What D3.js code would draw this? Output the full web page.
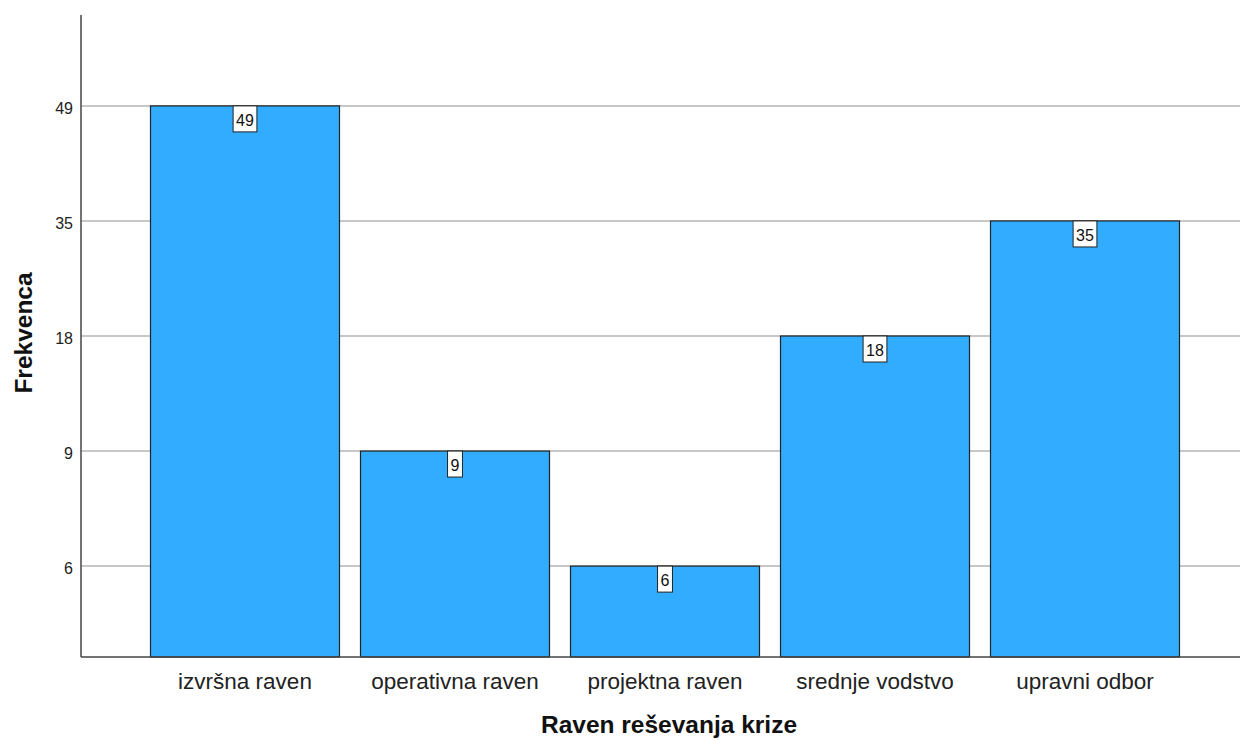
<!DOCTYPE html>
<html><head><meta charset="utf-8">
<script src="https://cdn.jsdelivr.net/npm/d3@7"></script>
<style>body{margin:0;background:#fff}svg{display:block;font-family:"Liberation Sans",Arial,sans-serif}</style>
</head><body><svg id="c" width="1240" height="740"></svg>
<script>
const categories = ["izvršna raven","operativna raven","projektna raven","srednje vodstvo","upravni odbor"];
const values = [49, 9, 6, 18, 35];
const yTicks = ["6","9","18","35","49"];
const xTitle = "Raven reševanja krize";
const yTitle = "Frekvenca";

(function(){
const svg = d3.select("#c");
const mLeft = 81, mBottom = 657, mTop = 15, mRight = 1240;

const x = d3.scaleBand().domain(categories).range([140, 1190]).paddingInner(0.1).paddingOuter(0.05);
const y = d3.scalePoint().domain(yTicks).range([mBottom, mTop]).padding(0.79);

// gridlines
svg.append("g").selectAll("line").data(yTicks).join("line")
  .attr("x1", mLeft).attr("x2", mRight)
  .attr("y1", d => y(d)).attr("y2", d => y(d))
  .attr("stroke", "#b5b5b5").attr("stroke-width", 1.5);

// bars
svg.append("g").selectAll("rect").data(values).join("rect")
  .attr("x", (d,i) => x(categories[i]))
  .attr("width", x.bandwidth())
  .attr("y", d => y(String(d)))
  .attr("height", d => mBottom - y(String(d)))
  .attr("fill", "#31acff").attr("stroke", "#222").attr("stroke-width", 1.2);

// value labels
const lab = svg.append("g").selectAll("g").data(values).join("g")
  .attr("transform", (d,i) => `translate(${x(categories[i]) + x.bandwidth()/2},${y(String(d))})`);
lab.append("rect");
const tx = lab.append("text").attr("y", 20).attr("text-anchor", "middle")
  .attr("font-size", 16).attr("fill", "#111").text(d => d);
tx.each(function(d, i){
  const w = this.getComputedTextLength() + 6;
  d3.select(this.parentNode).select("rect")
    .attr("x", -w/2).attr("width", w).attr("y", 0).attr("height", 26)
    .attr("fill", "#fff").attr("stroke", "#222").attr("stroke-width", 1);
});

// axes lines
svg.append("line").attr("x1", mLeft).attr("x2", mLeft).attr("y1", mTop).attr("y2", mBottom)
  .attr("stroke", "#444").attr("stroke-width", 1.5);
svg.append("line").attr("x1", mLeft).attr("x2", mRight).attr("y1", mBottom).attr("y2", mBottom)
  .attr("stroke", "#444").attr("stroke-width", 1.5);

// y tick labels
svg.append("g").selectAll("text").data(yTicks).join("text")
  .attr("x", 73).attr("y", d => y(d) + 8).attr("text-anchor", "end")
  .attr("font-size", 16).attr("fill", "#222").text(d => d);

// x tick labels
svg.append("g").selectAll("text").data(categories).join("text")
  .attr("x", d => x(d) + x.bandwidth()/2).attr("y", 689).attr("text-anchor", "middle")
  .attr("font-size", 22.5).attr("fill", "#222").text(d => d);

// titles
svg.append("text").attr("x", 669).attr("y", 733).attr("text-anchor", "middle")
  .attr("font-size", 24.5).attr("font-weight", "bold").attr("fill", "#111").text(xTitle);
svg.append("text").attr("transform", "translate(32,333) rotate(-90)").attr("text-anchor", "middle")
  .attr("font-size", 24.5).attr("font-weight", "bold").attr("fill", "#111").text(yTitle);
})();
</script></body></html>
